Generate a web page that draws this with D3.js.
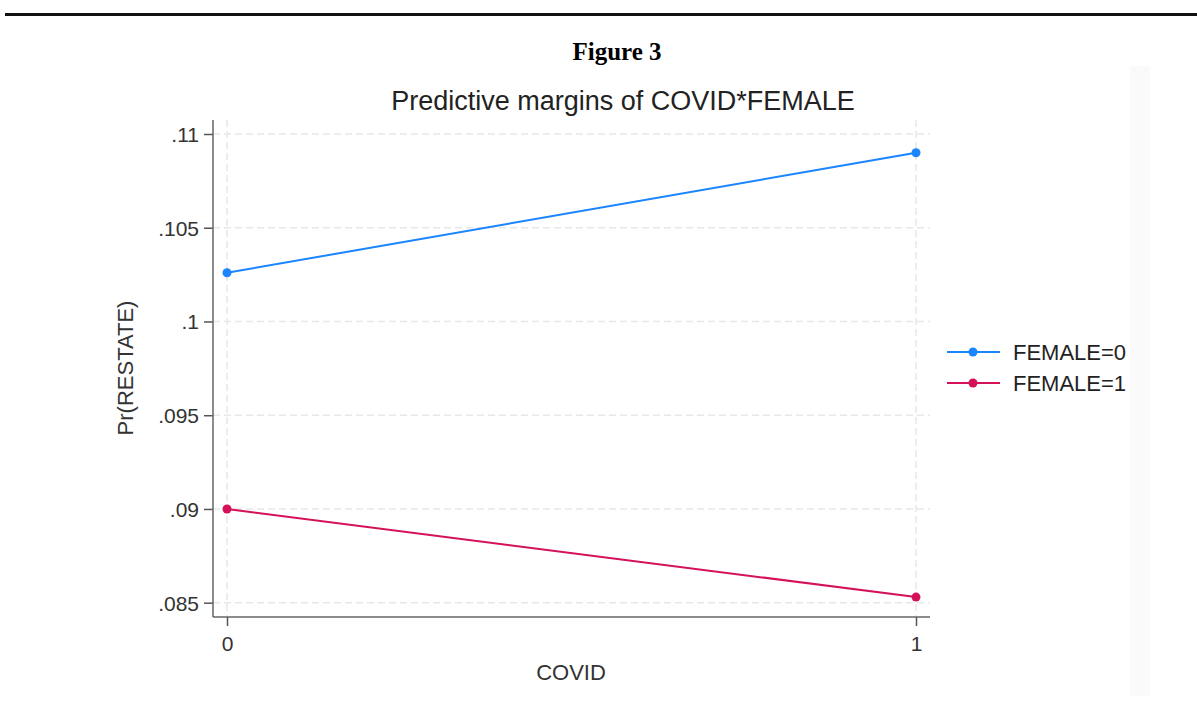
<!DOCTYPE html>
<html>
<head>
<meta charset="utf-8">
<script src="https://cdn.jsdelivr.net/npm/d3@7"></script>
<style>
  body { margin: 0; background: #fff; }
  svg text { font-family: "Liberation Sans", Arial, sans-serif; }
</style>
</head>
<body>
<div id="chart"></div>
<script>
// values
var covidLevels = [0, 1];
var female0 = [0.1026, 0.1090];
var female1 = [0.0900, 0.0853];
var yTicks = [0.085, 0.09, 0.095, 0.1, 0.105, 0.11];
var yTickLabels = [".085", ".09", ".095", ".1", ".105", ".11"];
var seriesNames = ["FEMALE=0", "FEMALE=1"];
var seriesColors = ["#1a85ff", "#d41159"];

var width = 1197, height = 702;
var svg = d3.select("#chart").append("svg")
    .attr("width", width)
    .attr("height", height);

// rule across the top of the page
svg.append("rect")
    .attr("x", 5).attr("y", 13)
    .attr("width", width - 5).attr("height", 3)
    .attr("fill", "#111");

svg.append("text")
    .attr("x", 617).attr("y", 60)
    .attr("text-anchor", "middle")
    .attr("fill", "#000")
    .style("font-family", "'Liberation Serif', 'Times New Roman', serif")
    .style("font-weight", "bold")
    .style("font-size", "25px")
    .text("Figure 3");

// faint edge of the pasted graph image
svg.append("rect")
    .attr("x", 1130).attr("y", 66)
    .attr("width", 20).attr("height", 630)
    .attr("fill", "#fafafa");

var plotLeft = 213, plotRight = 930, plotTop = 120, plotBottom = 617;

var x = d3.scaleLinear().domain([0, 1]).range([227, 916]);
var y = d3.scaleLinear().domain([0.085, 0.11]).range([602.7, 134]);

// grid
var grid = svg.append("g");
grid.selectAll("line.h")
    .data(yTicks)
    .enter().append("line")
    .attr("x1", plotLeft).attr("x2", plotRight)
    .attr("y1", function (d) { return y(d); })
    .attr("y2", function (d) { return y(d); })
    .attr("stroke", "#e8e8e8")
    .attr("stroke-width", 1.5)
    .attr("stroke-dasharray", "7,4");
grid.selectAll("line.v")
    .data(covidLevels)
    .enter().append("line")
    .attr("x1", function (d) { return x(d); })
    .attr("x2", function (d) { return x(d); })
    .attr("y1", plotTop).attr("y2", plotBottom)
    .attr("stroke", "#e8e8e8")
    .attr("stroke-width", 1.5)
    .attr("stroke-dasharray", "7,4");

// axes
var yAxis = d3.axisLeft(y)
    .tickValues(yTicks)
    .tickFormat(function (d, i) { return yTickLabels[i]; })
    .tickSize(9)
    .tickSizeOuter(0)
    .tickPadding(5);
var yg = svg.append("g")
    .attr("transform", "translate(" + plotLeft + ",0)")
    .call(yAxis);
yg.select(".domain").remove();
yg.append("line")
    .attr("x1", 0).attr("x2", 0)
    .attr("y1", plotTop).attr("y2", plotBottom)
    .attr("stroke", "#666").attr("stroke-width", 1.5);

var xAxis = d3.axisBottom(x)
    .tickValues(covidLevels)
    .tickFormat(d3.format("d"))
    .tickSize(9)
    .tickSizeOuter(0)
    .tickPadding(10);
var xg = svg.append("g")
    .attr("transform", "translate(0," + plotBottom + ")")
    .call(xAxis);
xg.select(".domain").remove();
xg.append("line")
    .attr("x1", plotLeft).attr("x2", plotRight)
    .attr("y1", 0).attr("y2", 0)
    .attr("stroke", "#666").attr("stroke-width", 1.5);

[yg, xg].forEach(function (g) {
    g.selectAll(".tick line").attr("stroke", "#555").attr("stroke-width", 1.5);
    g.selectAll(".tick text")
        .attr("fill", "#333")
        .style("font-size", "21px")
        .style("font-family", "'Liberation Sans', Arial, sans-serif");
});
yg.selectAll(".tick text").attr("dy", "0.35em");

// series
var series = [female0, female1];
var line = d3.line()
    .x(function (d, i) { return x(covidLevels[i]); })
    .y(function (d) { return y(d); });

series.forEach(function (vals, s) {
    svg.append("path")
        .datum(vals)
        .attr("d", line)
        .attr("fill", "none")
        .attr("stroke", seriesColors[s])
        .attr("stroke-width", 2);
    svg.selectAll("circle.s" + s)
        .data(vals)
        .enter().append("circle")
        .attr("cx", function (d, i) { return x(covidLevels[i]); })
        .attr("cy", function (d) { return y(d); })
        .attr("r", 4.5)
        .attr("fill", seriesColors[s]);
});

// titles
svg.append("text")
    .attr("x", 623).attr("y", 110)
    .attr("text-anchor", "middle")
    .attr("fill", "#222")
    .style("font-size", "27px")
    .text("Predictive margins of COVID*FEMALE");

svg.append("text")
    .attr("transform", "translate(133,368) rotate(-90)")
    .attr("text-anchor", "middle")
    .attr("fill", "#333")
    .style("font-size", "22px")
    .text("Pr(RESTATE)");

svg.append("text")
    .attr("x", 571).attr("y", 680)
    .attr("text-anchor", "middle")
    .attr("fill", "#333")
    .style("font-size", "22px")
    .text("COVID");

// legend
var legend = svg.append("g").attr("transform", "translate(947,352)");
seriesNames.forEach(function (name, s) {
    var row = legend.append("g").attr("transform", "translate(0," + (s * 31) + ")");
    row.append("line")
        .attr("x1", 0).attr("x2", 53)
        .attr("stroke", seriesColors[s]).attr("stroke-width", 2);
    row.append("circle")
        .attr("cx", 26).attr("r", 4.5)
        .attr("fill", seriesColors[s]);
    row.append("text")
        .attr("x", 66).attr("dy", "0.35em")
        .attr("fill", "#222")
        .style("font-size", "22px")
        .text(name);
});
</script>
</body>
</html>
